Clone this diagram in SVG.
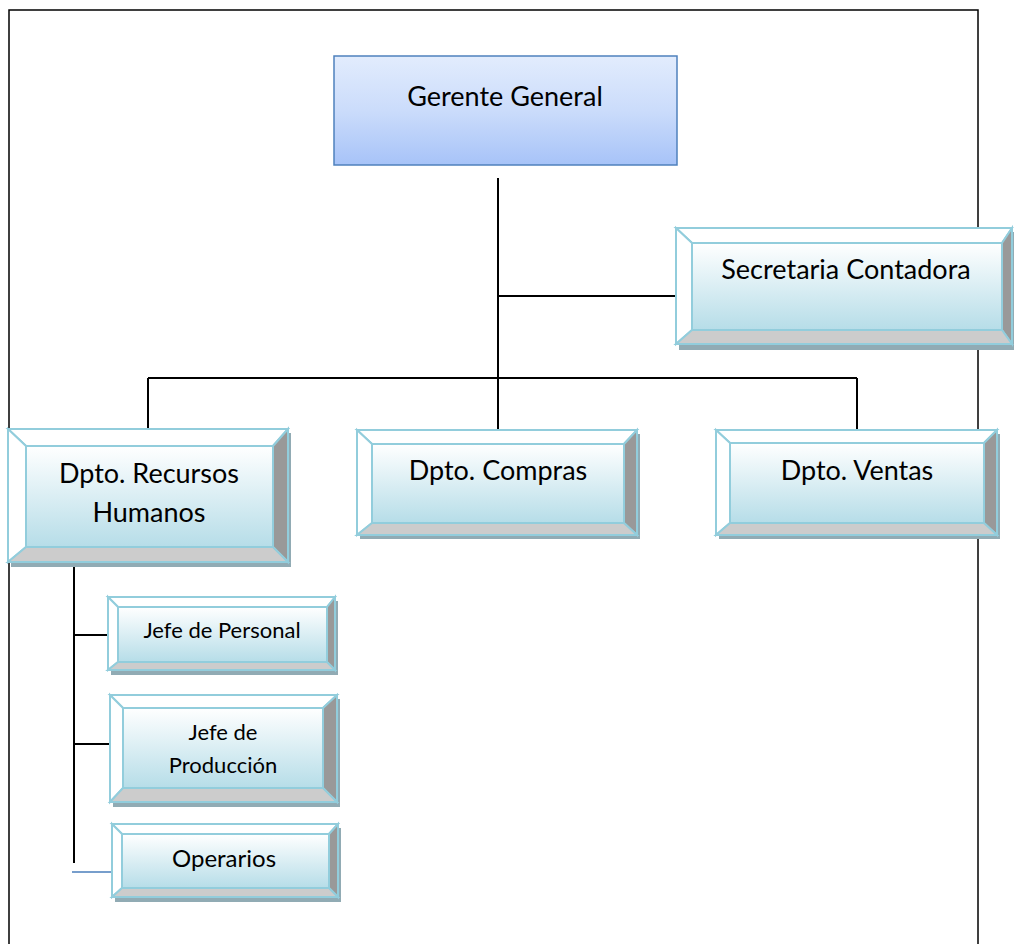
<svg xmlns="http://www.w3.org/2000/svg" width="1014" height="944" viewBox="0 0 1014 944">
<defs>
<linearGradient id="gBlue" x1="0" y1="0" x2="0" y2="1"><stop offset="0" stop-color="#e2ecfd"/><stop offset="0.5" stop-color="#cbdcfb"/><stop offset="1" stop-color="#a7c3f8"/></linearGradient>
<linearGradient id="gTeal" x1="0" y1="0" x2="0" y2="1"><stop offset="0" stop-color="#ffffff"/><stop offset="1" stop-color="#b6dde8"/></linearGradient>
</defs>
<style>
.frame{fill:none;stroke:#000;stroke-width:1.5}
.ln{stroke:#000;stroke-width:2;fill:none}
.sh{fill:#91abb4}
.bv{stroke:#92cddc;stroke-width:2;stroke-linejoin:miter}
.lt{fill:#ffffff}
.rt{fill:#999999}
.bt{fill:#cccccc}
.in{fill:url(#gTeal)}
text{font-family:"Lato","Liberation Sans",sans-serif;fill:#000;text-anchor:middle}
.t22{font-size:27px}
.t20{font-size:24px}
.t17{font-size:22px}
</style>
<rect class="frame" x="9" y="10" width="969" height="945"/>
<g id="connectors">
<line class="ln" x1="498" y1="178" x2="498" y2="430"/>
<line class="ln" x1="498" y1="296" x2="677" y2="296"/>
<line class="ln" x1="148" y1="378" x2="857" y2="378"/>
<line class="ln" x1="148" y1="378" x2="148" y2="430"/>
<line class="ln" x1="857" y1="378" x2="857" y2="430"/>
<line class="ln" x1="74" y1="547" x2="74" y2="863"/>
<line class="ln" x1="74" y1="635" x2="108" y2="635"/>
<line class="ln" x1="74" y1="744" x2="110" y2="744"/>
<line x1="72" y1="872" x2="112" y2="872" stroke="#4a7ebb" stroke-width="1.5"/>
</g>
<g id="gerente">
<rect x="334" y="56" width="343" height="109" fill="url(#gBlue)" stroke="#4f81bd" stroke-width="1.5"/>
<text class="t22" x="505" y="106">Gerente General</text>
</g>
<g id="secretaria">
<rect class="sh" x="679" y="232" width="336" height="118"/>
<polygon class="bv lt" points="676,228 1012,228 1002,243 692,243"/>
<polygon class="bv lt" points="676,228 692,243 692,330 676,344"/>
<polygon class="bv rt" points="1012,228 1012,344 1002,330 1002,243"/>
<polygon class="bv bt" points="676,344 1012,344 1002,330 692,330"/>
<rect class="bv in" x="692" y="243" width="310" height="87"/>
<text class="t22" x="846" y="279">Secretaria Contadora</text>
</g>
<g id="rrhh">
<rect class="sh" x="11" y="433" width="280" height="134"/>
<polygon class="bv lt" points="8,429 288,429 273,446 26,446"/>
<polygon class="bv lt" points="8,429 26,446 26,547 8,562"/>
<polygon class="bv rt" points="288,429 288,562 273,547 273,446"/>
<polygon class="bv bt" points="8,562 288,562 273,547 26,547"/>
<rect class="bv in" x="26" y="446" width="247" height="101"/>
<text class="t22" x="149" y="483">Dpto. Recursos</text>
<text class="t22" x="149" y="522">Humanos</text>
</g>
<g id="compras">
<rect class="sh" x="360" y="434" width="280" height="105"/>
<polygon class="bv lt" points="357,430 637,430 624,444 372,444"/>
<polygon class="bv lt" points="357,430 372,444 372,523 357,535"/>
<polygon class="bv rt" points="637,430 637,535 624,523 624,444"/>
<polygon class="bv bt" points="357,535 637,535 624,523 372,523"/>
<rect class="bv in" x="372" y="444" width="252" height="79"/>
<text class="t22" x="498" y="480">Dpto. Compras</text>
</g>
<g id="ventas">
<rect class="sh" x="719" y="434" width="281" height="105"/>
<polygon class="bv lt" points="716,430 997,430 984,443 730,443"/>
<polygon class="bv lt" points="716,430 730,443 730,523 716,535"/>
<polygon class="bv rt" points="997,430 997,535 984,523 984,443"/>
<polygon class="bv bt" points="716,535 997,535 984,523 730,523"/>
<rect class="bv in" x="730" y="443" width="254" height="80"/>
<text class="t22" x="857" y="480">Dpto. Ventas</text>
</g>
<g id="personal">
<rect class="sh" x="111" y="601" width="227" height="74"/>
<polygon class="bv lt" points="108,597 335,597 327,607 118,607"/>
<polygon class="bv lt" points="108,597 118,607 118,662 108,670"/>
<polygon class="bv rt" points="335,597 335,670 327,662 327,607"/>
<polygon class="bv bt" points="108,670 335,670 327,662 118,662"/>
<rect class="bv in" x="118" y="607" width="209" height="55"/>
<text class="t17" x="222" y="638">Jefe de Personal</text>
</g>
<g id="produccion">
<rect class="sh" x="113" y="699" width="227" height="108"/>
<polygon class="bv lt" points="110,695 337,695 323,708 123,708"/>
<polygon class="bv lt" points="110,695 123,708 123,788 110,802"/>
<polygon class="bv rt" points="337,695 337,802 323,788 323,708"/>
<polygon class="bv bt" points="110,802 337,802 323,788 123,788"/>
<rect class="bv in" x="123" y="708" width="200" height="80"/>
<text class="t17" x="223" y="740">Jefe de</text>
<text class="t17" x="223" y="773">Producción</text>
</g>
<g id="operarios">
<rect class="sh" x="115" y="828" width="226" height="74"/>
<polygon class="bv lt" points="112,824 338,824 329,834 122,834"/>
<polygon class="bv lt" points="112,824 122,834 122,888 112,897"/>
<polygon class="bv rt" points="338,824 338,897 329,888 329,834"/>
<polygon class="bv bt" points="112,897 338,897 329,888 122,888"/>
<rect class="bv in" x="122" y="834" width="207" height="54"/>
<text class="t20" x="224" y="867">Operarios</text>
</g>
</svg>
